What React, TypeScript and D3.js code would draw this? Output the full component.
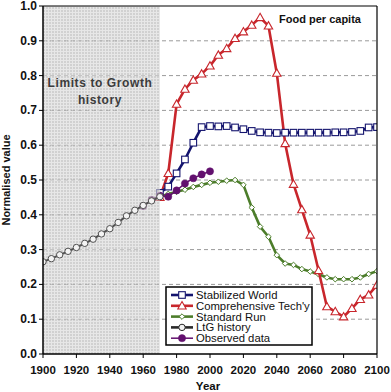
import React from "react";
import * as d3 from "d3";

const ltgYears = [1900, 1905, 1910, 1915, 1920, 1925, 1930, 1935, 1940, 1945, 1950, 1955, 1960, 1965, 1970];
const ltgValues = [0.265, 0.274, 0.285, 0.295, 0.306, 0.318, 0.33, 0.345, 0.36, 0.378, 0.397, 0.413, 0.427, 0.44, 0.452];

const obsYears = [1960, 1965, 1970, 1975, 1980, 1985, 1990, 1995, 2000];
const obsValues = [0.425, 0.443, 0.455, 0.452, 0.47, 0.49, 0.505, 0.516, 0.525];

const scenYears = [1970, 1975, 1980, 1985, 1990, 1995, 2000, 2005, 2010, 2015, 2020, 2025, 2030, 2035, 2040, 2045, 2050, 2055, 2060, 2065, 2070, 2075, 2080, 2085, 2090, 2095, 2100];
const stabilizedValues = [0.463, 0.481, 0.519, 0.559, 0.607, 0.652, 0.655, 0.654, 0.655, 0.651, 0.646, 0.641, 0.637, 0.636, 0.635, 0.636, 0.636, 0.636, 0.636, 0.636, 0.636, 0.637, 0.637, 0.638, 0.641, 0.651, 0.652];
const techValues = [0.45, 0.519, 0.718, 0.761, 0.787, 0.805, 0.828, 0.859, 0.878, 0.907, 0.926, 0.945, 0.967, 0.943, 0.807, 0.605, 0.488, 0.415, 0.342, 0.24, 0.136, 0.122, 0.107, 0.131, 0.157, 0.17, 0.198];
const standardValues = [0.452, 0.46, 0.466, 0.472, 0.48, 0.486, 0.492, 0.495, 0.498, 0.5, 0.486, 0.421, 0.366, 0.337, 0.284, 0.26, 0.256, 0.244, 0.237, 0.229, 0.22, 0.215, 0.215, 0.215, 0.22, 0.23, 0.238];

const yTicks = [0, 0.1, 0.2, 0.3, 0.4, 0.5, 0.6, 0.7, 0.8, 0.9, 1.0];
const xTicks = [1900, 1920, 1940, 1960, 1980, 2000, 2020, 2040, 2060, 2080, 2100];

const legendLabels = ["Stabilized World", "Comprehensive Tech'y", "Standard Run", "LtG history", "Observed data"];

const FONT = "'Liberation Sans', Arial, sans-serif";
const C_BLUE = "#14146e";
const C_RED = "#c8262c";
const C_GREEN = "#4c7d2a";
const C_BLACK = "#2a2a2a";
const C_PURPLE = "#62106e";

type Marker = "square" | "triangle" | "diamond" | "circle" | "dot";

function MarkerShape({ kind, x, y, color }: { kind: Marker; x: number; y: number; color: string }) {
  if (kind === "square") {
    return <rect x={x - 3.3} y={y - 3.3} width={6.6} height={6.6} fill="#fff" stroke={color} strokeWidth={1.1} />;
  }
  if (kind === "triangle") {
    const s = 4.2;
    return (
      <path
        d={`M${x},${y - s} L${x + s},${y + s * 0.75} L${x - s},${y + s * 0.75} Z`}
        fill="#fff"
        stroke={color}
        strokeWidth={1.1}
      />
    );
  }
  if (kind === "diamond") {
    const s = 2.8;
    return <path d={`M${x},${y - s} L${x + s},${y} L${x},${y + s} L${x - s},${y} Z`} fill="#fff" stroke={color} strokeWidth={1} />;
  }
  if (kind === "circle") {
    return <circle cx={x} cy={y} r={3.2} fill="#f4f4f4" stroke={color} strokeWidth={1} />;
  }
  return <circle cx={x} cy={y} r={3.6} fill={color} stroke={color} strokeWidth={0.5} />;
}

export default function App() {
  const W = 391;
  const H = 392;
  const left = 43;
  const right = 377;
  const top = 6;
  const bottom = 354;

  const x = d3.scaleLinear().domain([1900, 2100]).range([left, right]);
  const y = d3.scaleLinear().domain([0, 1]).range([bottom, top]);

  const line = d3
    .line<[number, number]>()
    .x((d) => x(d[0]))
    .y((d) => y(d[1]));

  const under = [
    { years: scenYears, values: standardValues, color: C_GREEN, marker: "diamond" as Marker, width: 2.6 },
    { years: scenYears, values: techValues, color: C_RED, marker: "triangle" as Marker, width: 2.6 },
    { years: scenYears, values: stabilizedValues, color: C_BLUE, marker: "square" as Marker, width: 2.6 },
    { years: obsYears, values: obsValues, color: C_PURPLE, marker: "dot" as Marker, width: 1.5 },
  ];
  const over = [{ years: ltgYears, values: ltgValues, color: "#505050", marker: "circle" as Marker, width: 2 }];

  const legendItems = [
    { color: C_BLUE, marker: "square" as Marker, width: 2.6 },
    { color: C_RED, marker: "triangle" as Marker, width: 2.6 },
    { color: C_GREEN, marker: "diamond" as Marker, width: 2.6 },
    { color: C_BLACK, marker: "circle" as Marker, width: 2.6 },
    { color: C_PURPLE, marker: "dot" as Marker, width: 1.5 },
  ];

  const shadeRight = x(1970);

  const lgX = 166;
  const lgY = 287;
  const lgW = 146;
  const lgH = 58;
  const lgRow = 10.8;

  const renderSeries = (list: typeof under) =>
    list.map((s, i) => {
      const pts = s.years.map((yr, j) => [yr, s.values[j]] as [number, number]);
      return (
        <g key={i}>
          <path d={line(pts) || ""} fill="none" stroke={s.color} strokeWidth={s.width} strokeLinejoin="round" />
          {pts.map((p, j) => (
            <MarkerShape key={j} kind={s.marker} x={x(p[0])} y={y(p[1])} color={s.color} />
          ))}
        </g>
      );
    });

  return (
    <svg width={W} height={H} style={{ position: "absolute", left: 0, top: 0, background: "#fff" }} fontFamily={FONT}>
      <defs>
        <pattern id="shade" width="3" height="3" patternUnits="userSpaceOnUse">
          <rect width="3" height="3" fill="#b4b4b4" />
          <rect width="3" height="1" fill="#d8d8d8" />
          <rect width="1" height="3" fill="#d8d8d8" />
        </pattern>
        <clipPath id="plotClip">
          <rect x={left} y={top} width={right - left} height={bottom - top} />
        </clipPath>
      </defs>

      {/* grid lines */}
      {yTicks
        .filter((t) => t > 0 && t < 1)
        .map((t) => (
          <line key={t} x1={left} x2={right} y1={y(t)} y2={y(t)} stroke="#9a9a9a" strokeWidth={1} strokeDasharray="4,3" />
        ))}

      <g clipPath="url(#plotClip)">{renderSeries(under)}</g>

      {/* shaded history overlay */}
      <rect x={left} y={top} width={shadeRight - left} height={bottom - top} fill="url(#shade)" opacity={0.62} />

      <g clipPath="url(#plotClip)">{renderSeries(over)}</g>

      <text x={100} y={83} textAnchor="middle" dominantBaseline="central" fontSize={12} fontWeight="bold" fill="#3c3c3c" letterSpacing={0.6}>
        Limits to Growth
      </text>
      <text x={100} y={100} textAnchor="middle" dominantBaseline="central" fontSize={12} fontWeight="bold" fill="#3c3c3c" letterSpacing={0.6}>
        history
      </text>

      {/* frame */}
      <line x1={left} x2={right} y1={top} y2={top} stroke="#000" strokeWidth={1.2} />
      <line x1={right} x2={right} y1={top} y2={bottom} stroke="#000" strokeWidth={1.2} />
      <line x1={left} x2={left} y1={top} y2={bottom} stroke="#000" strokeWidth={1.5} />
      <line x1={left} x2={right} y1={bottom} y2={bottom} stroke="#000" strokeWidth={1.5} />

      {/* y ticks */}
      {yTicks.map((t) => (
        <g key={t}>
          <line x1={left - 4} x2={left} y1={y(t)} y2={y(t)} stroke="#000" strokeWidth={1} />
          <text x={left - 6} y={y(t)} textAnchor="end" dominantBaseline="central" fontSize={12} fontWeight="bold" fill="#111">
            {d3.format(".1f")(t)}
          </text>
        </g>
      ))}

      {/* x ticks */}
      {xTicks.map((t) => (
        <g key={t}>
          <line x1={x(t)} x2={x(t)} y1={bottom} y2={bottom + 4} stroke="#000" strokeWidth={1} />
          <text x={x(t)} y={bottom + 16} textAnchor="middle" dominantBaseline="central" fontSize={11.5} fontWeight="bold" fill="#111">
            {t}
          </text>
        </g>
      ))}

      <text x={208} y={386} textAnchor="middle" dominantBaseline="central" fontSize={11.5} fontWeight="bold" fill="#111">
        Year
      </text>
      <text
        transform={`translate(6,180) rotate(-90)`}
        textAnchor="middle"
        dominantBaseline="central"
        fontSize={11}
        fontWeight="bold"
        fill="#111"
      >
        Normalised value
      </text>

      <text x={320} y={19} textAnchor="middle" dominantBaseline="central" fontSize={11} fontWeight="bold" fill="#111">
        Food per capita
      </text>

      {/* legend */}
      <rect x={lgX} y={lgY} width={lgW} height={lgH} fill="#fff" stroke="#000" strokeWidth={1.5} />
      {legendItems.map((it, i) => {
        const cy = lgY + 8 + i * lgRow;
        return (
          <g key={i}>
            <line x1={lgX + 5} x2={lgX + 27} y1={cy} y2={cy} stroke={it.color} strokeWidth={it.width} />
            <MarkerShape kind={it.marker} x={lgX + 16} y={cy} color={it.color} />
            <text x={lgX + 30} y={cy} dominantBaseline="central" fontSize={11.3} fill="#111">
              {legendLabels[i]}
            </text>
          </g>
        );
      })}
    </svg>
  );
}
